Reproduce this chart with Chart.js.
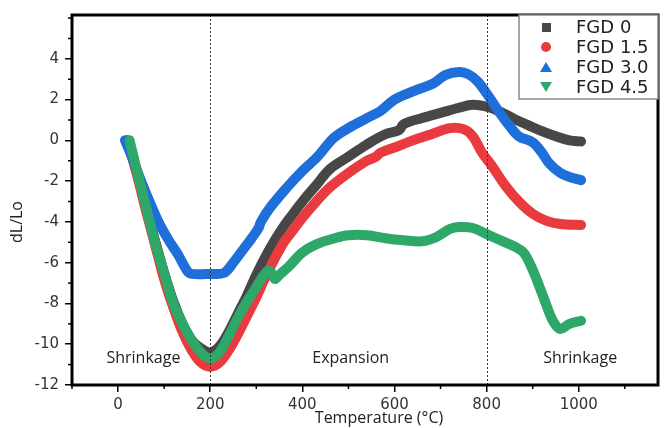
<!DOCTYPE html>
<html>
<head>
<meta charset="utf-8">
<script src="https://cdn.jsdelivr.net/npm/chart.js@4/dist/chart.umd.min.js"></script>
<style>
  html, body { margin: 0; padding: 0; background: #fff; }
  #wrap { width: 666px; height: 428px; }
</style>
</head>
<body>
<div id="wrap"><canvas id="myChart" width="666" height="428"></canvas></div>
<script>
// series labels
const seriesNames = ["FGD 0", "FGD 1.5", "FGD 3.0", "FGD 4.5"];

// FGD 0 (dark grey)
const tempFgd0 = [20, 40, 60, 80, 100, 120, 140, 160, 180, 200, 220, 240, 260, 280, 300, 320, 340, 360, 380, 400, 430, 460, 500, 540, 580, 610, 620, 660, 700, 740, 770, 800, 830, 860, 890, 920, 950, 980, 1005];
const dlFgd0 = [0, -1.5, -3.2, -4.9, -6.5, -7.9, -9.0, -9.8, -10.2, -10.4, -10.1, -9.4, -8.5, -7.6, -6.6, -5.7, -4.9, -4.2, -3.6, -3.0, -2.2, -1.4, -0.8, -0.2, 0.3, 0.5, 0.8, 1.1, 1.35, 1.6, 1.75, 1.65, 1.4, 1.05, 0.75, 0.45, 0.2, 0.0, -0.05];

// FGD 1.5 (red)
const tempFgd15 = [20, 40, 60, 80, 100, 120, 140, 160, 180, 200, 220, 240, 260, 280, 300, 320, 340, 360, 380, 400, 430, 460, 500, 540, 560, 570, 600, 640, 680, 720, 750, 770, 790, 810, 840, 870, 900, 930, 960, 1005];
const dlFgd15 = [0, -1.6, -3.4, -5.1, -6.8, -8.2, -9.4, -10.3, -10.9, -11.1, -10.9, -10.3, -9.5, -8.6, -7.7, -6.7, -5.8, -5.0, -4.4, -3.8, -3.0, -2.3, -1.6, -1.0, -0.8, -0.6, -0.35, 0.0, 0.3, 0.6, 0.55, 0.2, -0.6, -1.2, -2.2, -3.0, -3.6, -3.95, -4.1, -4.15];

// FGD 3.0 (blue)
const tempFgd30 = [15, 30, 50, 70, 90, 110, 130, 150, 160, 200, 230, 250, 270, 290, 305, 310, 330, 367, 400, 433, 467, 500, 541, 570, 600, 640, 685, 710, 740, 760, 780, 800, 830, 850, 870, 900, 920, 935, 960, 980, 1005];
const dlFgd30 = [0, -0.8, -2.0, -3.1, -4.1, -4.9, -5.6, -6.4, -6.55, -6.55, -6.5, -6.0, -5.4, -4.8, -4.3, -4.0, -3.3, -2.3, -1.5, -0.8, 0.1, 0.6, 1.1, 1.45, 2.0, 2.4, 2.8, 3.2, 3.35, 3.25, 2.9, 2.3, 1.3, 0.7, 0.2, -0.1, -0.6, -1.1, -1.6, -1.8, -1.95];

// FGD 4.5 (green)
const tempFgd45 = [25, 40, 60, 80, 100, 120, 140, 160, 180, 200, 220, 240, 260, 280, 300, 320, 330, 340, 350, 370, 400, 430, 470, 500, 540, 580, 620, 660, 690, 720, 740, 770, 800, 830, 860, 880, 895, 910, 925, 935, 945, 960, 980, 1005];
const dlFgd45 = [0, -1.4, -3.2, -5.0, -6.5, -8.0, -9.0, -9.8, -10.4, -10.7, -10.4, -9.6, -8.7, -7.9, -7.2, -6.5, -6.4, -6.8, -6.6, -6.2, -5.5, -5.1, -4.8, -4.65, -4.65, -4.8, -4.9, -4.95, -4.75, -4.35, -4.25, -4.3, -4.6, -4.9, -5.2, -5.5, -6.1, -6.9, -7.8, -8.4, -8.9, -9.25, -9.0, -8.85];

// axis ticks (odd ones are minor)
const xTickValues = [-100, 0, 100, 200, 300, 400, 500, 600, 700, 800, 900, 1000, 1100];
const yTickValues = [-12, -11, -10, -9, -8, -7, -6, -5, -4, -3, -2, -1, 0, 1, 2, 3, 4, 5, 6];

// text annotations (centre temperature, dL/Lo level)
const regionNames = ["Shrinkage", "Expansion", "Shrinkage"];
const regionTemps = [55, 505, 1003];
const regionLevel = -10.7;
const stageLines = [200, 800];

const colors = ['#474747', '#e83a3f', '#1f6fdb', '#2ea868'];
const markers = ['rect', 'circle', 'triangle', 'invtriangle'];

function pts(xs, ys) {
  return xs.map((x, i) => ({ x: x, y: ys[i] }));
}

const allSeries = [
  pts(tempFgd0, dlFgd0),
  pts(tempFgd15, dlFgd15),
  pts(tempFgd30, dlFgd30),
  pts(tempFgd45, dlFgd45)
];

const isMajorX = v => v >= 0 && v <= 1000 && v % 200 === 0;
const isMajorY = v => v % 2 === 0 && v <= 4;

// frame, minor ticks, dotted stage lines, legend, labels
const decoPlugin = {
  id: 'deco',
  afterDraw(chart) {
    const ctx = chart.ctx;
    const a = chart.chartArea;
    const xs = chart.scales.x;
    const ys = chart.scales.y;
    ctx.save();

    // minor ticks
    ctx.strokeStyle = '#000';
    ctx.lineWidth = 1.5;
    xTickValues.filter(v => !isMajorX(v)).forEach(v => {
      const px = xs.getPixelForValue(v);
      ctx.beginPath();
      ctx.moveTo(px, a.bottom);
      ctx.lineTo(px, a.bottom + 4);
      ctx.stroke();
    });
    yTickValues.filter(v => !isMajorY(v)).forEach(v => {
      const py = ys.getPixelForValue(v);
      ctx.beginPath();
      ctx.moveTo(a.left, py);
      ctx.lineTo(a.left - 4, py);
      ctx.stroke();
    });

    // dotted stage lines
    ctx.strokeStyle = '#333';
    ctx.lineWidth = 1;
    ctx.setLineDash([2, 2]);
    stageLines.forEach(v => {
      const px = Math.round(xs.getPixelForValue(v)) + 0.5;
      ctx.beginPath();
      ctx.moveTo(px, a.top);
      ctx.lineTo(px, a.bottom);
      ctx.stroke();
    });
    ctx.setLineDash([]);

    // region labels
    ctx.fillStyle = '#222';
    ctx.font = '16px "Open Sans"';
    ctx.textAlign = 'center';
    ctx.textBaseline = 'middle';
    regionNames.forEach((t, i) => {
      ctx.fillText(t, xs.getPixelForValue(regionTemps[i]), ys.getPixelForValue(regionLevel));
    });

    // axis titles
    ctx.fillText('Temperature (\u00B0C)', 379, 418);
    ctx.save();
    ctx.translate(17, 222);
    ctx.rotate(-Math.PI / 2);
    ctx.fillText('dL/Lo', 0, 0);
    ctx.restore();

    // frame
    ctx.strokeStyle = '#000';
    ctx.lineWidth = 3;
    ctx.strokeRect(a.left, a.top, a.right - a.left, a.bottom - a.top);

    // legend box
    const lx = 519, ly = a.top, lw = a.right - 519, lh = 84;
    ctx.fillStyle = '#fff';
    ctx.fillRect(lx, ly, lw, lh);
    ctx.strokeStyle = '#888';
    ctx.lineWidth = 1.5;
    ctx.strokeRect(lx, ly, lw, lh);
    ctx.font = '18px "DejaVu Sans"';
    ctx.textAlign = 'left';
    seriesNames.forEach((name, i) => {
      const cy = 27 + i * 20;
      ctx.fillStyle = colors[i];
      ctx.beginPath();
      if (markers[i] === 'rect') {
        ctx.fillRect(542, cy - 4, 9, 9);
      } else if (markers[i] === 'circle') {
        ctx.arc(546, cy, 5, 0, Math.PI * 2);
        ctx.fill();
      } else if (markers[i] === 'triangle') {
        ctx.moveTo(546, cy - 5); ctx.lineTo(552, cy + 5); ctx.lineTo(540, cy + 5);
        ctx.closePath(); ctx.fill();
      } else {
        ctx.moveTo(546, cy + 5); ctx.lineTo(552, cy - 5); ctx.lineTo(540, cy - 5);
        ctx.closePath(); ctx.fill();
      }
      ctx.fillStyle = '#222';
      ctx.fillText(name, 576, cy + 1);
    });
    ctx.restore();
  }
};

const myChart = document.getElementById('myChart').getContext('2d');

const dilChart = new Chart(myChart, {
  type: 'line',
  data: {
    datasets: allSeries.map((d, i) => ({
      label: seriesNames[i],
      data: d,
      borderColor: colors[i],
      backgroundColor: colors[i],
      borderWidth: 10,
      pointRadius: 0,
      tension: 0.35,
      borderCapStyle: 'round',
      borderJoinStyle: 'round',
      fill: false,
      order: i === 3 ? 0 : 4 - i
    }))
  },
  options: {
    responsive: false,
    animation: false,
    layout: { padding: { left: 0, top: 14, right: 8, bottom: 0 } },
    plugins: {
      legend: { display: false },
      tooltip: { enabled: false }
    },
    scales: {
      x: {
        type: 'linear',
        min: -100,
        max: 1172,
        afterBuildTicks: s => { s.ticks = xTickValues.map(v => ({ value: v })); },
        afterFit: s => { s.height = 43; },
        border: { display: false },
        grid: {
          drawOnChartArea: false, tickLength: 7, lineWidth: 1.5,
          tickColor: c => isMajorX(c.tick.value) ? '#000' : 'rgba(0,0,0,0)'
        },
        ticks: {
          autoSkip: false,
          maxRotation: 0,
          padding: 4,
          color: '#333',
          font: { family: 'DejaVu Sans', size: 15 },
          callback: v => isMajorX(v) ? String(v) : ''
        }
      },
      y: {
        min: -12,
        max: 6.15,
        afterBuildTicks: s => { s.ticks = yTickValues.map(v => ({ value: v })); },
        afterFit: s => { s.width = 72; },
        border: { display: false },
        grid: {
          drawOnChartArea: false, tickLength: 7, lineWidth: 1.5,
          tickColor: c => isMajorY(c.tick.value) ? '#000' : 'rgba(0,0,0,0)'
        },
        ticks: {
          autoSkip: false,
          padding: 6,
          color: '#333',
          font: { family: 'DejaVu Sans', size: 15 },
          callback: v => isMajorY(v) ? String(v) : ''
        }
      }
    }
  },
  plugins: [decoPlugin]
});
</script>
</body>
</html>
